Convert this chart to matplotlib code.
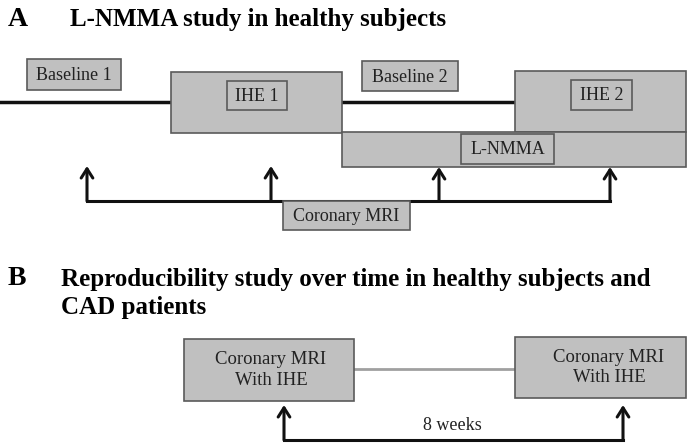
import matplotlib.pyplot as plt
from matplotlib.patches import Rectangle

plt.rcParams['font.family'] = ['Liberation Serif', 'DejaVu Serif']

# panel A: phase boxes (x0, y0, x1, y1) in pixel coords
outer_boxes = [(171, 72, 342, 133), (515, 71, 686, 132), (342, 132, 686, 167)]
label_text = ['Baseline 1', 'IHE 1', 'Baseline 2', 'IHE 2', 'L-NMMA', 'Coronary MRI']
label_boxes = [(27, 59, 121, 90), (227, 81, 287, 110), (362, 61, 458, 91),
               (571, 80, 632, 110), (461, 134, 554, 164), (283, 201, 410, 230)]
baseline_segments = [(0, 171), (342, 515)]
mri_times = [87, 271, 439, 610]
mri_tips = [166, 166, 167, 167]

# panel B
b_boxes = [(184, 339, 354, 401), (515, 337, 686, 398)]
b_text = 'Coronary MRI\nWith IHE'
b_text_x = [271, 609]
b_arrows = [284, 623]

FILL = '#c0c0c0'
EDGE = '#5a5a5a'

fig = plt.figure(figsize=(6.9, 4.47), dpi=100)
ax = fig.add_axes([0, 0, 1, 1])
ax.set_xlim(0, 690)
ax.set_ylim(447, 0)
ax.axis('off')


def box(x0, y0, x1, y1, lw=1.2):
    ax.add_patch(Rectangle((x0, y0), x1 - x0, y1 - y0, facecolor=FILL,
                           edgecolor=EDGE, lw=lw, zorder=2))


def arrow(x, y0, y1):
    ax.annotate('', xy=(x, y1), xytext=(x, y0),
                arrowprops=dict(arrowstyle='->, head_width=0.35, head_length=0.55',
                                lw=2.2, color='#111111',
                                mutation_scale=12, shrinkA=0, shrinkB=0),
                zorder=3)


# titles
ax.text(8, 26, 'A', fontsize=20, fontweight='bold', va='baseline', ha='left')
ax.text(70, 26, 'L-NMMA study in healthy subjects', fontsize=18,
        fontweight='bold', va='baseline', ha='left')
ax.text(8, 285, 'B', fontsize=20, fontweight='bold', va='baseline', ha='left')
ax.text(61, 286, 'Reproducibility study over time in healthy subjects and',
        fontsize=18, fontweight='bold', va='baseline', ha='left')
ax.text(61, 314, 'CAD patients', fontsize=18, fontweight='bold',
        va='baseline', ha='left')

# panel A timeline
for xa, xb in baseline_segments:
    ax.plot([xa, xb], [102, 102], color='#111111', lw=2.5, zorder=1)
for b in outer_boxes:
    box(*b)
ax.plot([mri_times[0], mri_times[-1]], [201, 201], color='#111111', lw=2.2, zorder=1)
for x, tip in zip(mri_times, mri_tips):
    arrow(x, 201, tip)
for t, (x0, y0, x1, y1) in zip(label_text, label_boxes):
    box(x0, y0, x1, y1, lw=1.2)
    ax.text((x0 + x1) / 2, (y0 + y1) / 2 + 1, t, fontsize=13,
            ha='center', va='center', color='#222222', zorder=4)

# panel B
ax.plot([b_boxes[0][2], b_boxes[1][0]], [369, 369], color='#a0a0a0', lw=2, zorder=1)
for (x0, y0, x1, y1), tx in zip(b_boxes, b_text_x):
    box(x0, y0, x1, y1)
    ax.text(tx, (y0 + y1) / 2, b_text, fontsize=13.5, ha='center', va='center',
            color='#222222', linespacing=1.25, zorder=4)
ax.plot([b_arrows[0], b_arrows[1]], [440, 440], color='#111111', lw=2.2, zorder=1)
for x in b_arrows:
    arrow(x, 440, 405)
ax.text(452, 426, '8 weeks', fontsize=13, ha='center', va='center', color='#222222')

fig.savefig('out.png', dpi=100)
